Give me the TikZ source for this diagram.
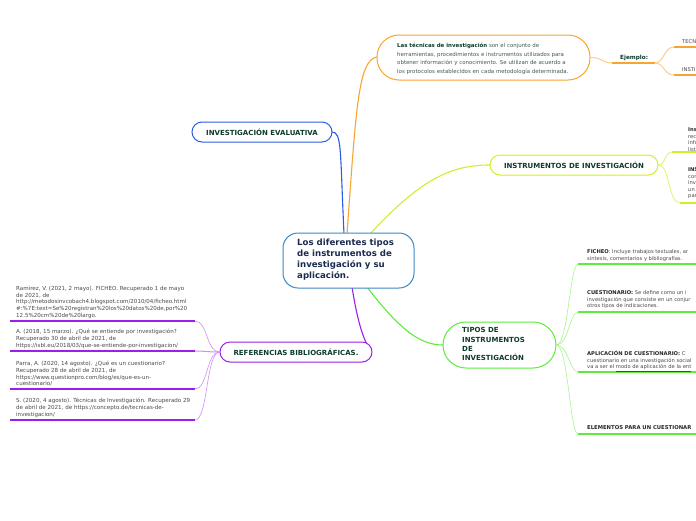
\documentclass[tikz,border=0pt]{standalone}
\usepackage{fontspec}
\setmainfont{DejaVu Sans}
\usetikzlibrary{calc}
\definecolor{cOr}{HTML}{F7A531}
\definecolor{cOrL}{HTML}{FAD08A}
\definecolor{cBl}{HTML}{2B5CE6}
\definecolor{cCen}{HTML}{3A8AC8}
\definecolor{cYg}{HTML}{D2EE2A}
\definecolor{cYgL}{HTML}{E4F47A}
\definecolor{cGr}{HTML}{5EEB3C}
\definecolor{cGrL}{HTML}{A6F38E}
\definecolor{cPu}{HTML}{9B1FEA}
\definecolor{cPuL}{HTML}{CF90F5}
\definecolor{tDk}{HTML}{0D3B2C}
\definecolor{tNavy}{HTML}{1B2B4F}
\definecolor{tGray}{HTML}{4A4A4A}
\definecolor{tBody}{HTML}{3F5A4F}
\tikzset{
  capsule/.style={draw, line width=1pt, rectangle, inner sep=0pt, fill=white},
  lbl/.style={font=\fontsize{7}{9.3}\selectfont\bfseries, text=tDk, inner sep=0pt},
  body/.style={font=\fontsize{5.2}{6.6}\selectfont, text=tGray, align=left, inner sep=0pt, anchor=north west},
  refbody/.style={font=\fontsize{5.55}{6.6}\selectfont, text=tGray, align=left, inner sep=0pt, anchor=north west},
  main/.style={line width=1.1pt},
  ul/.style={line width=1.6pt},
  br/.style={line width=0.6pt}
}
\begin{document}
\begin{tikzpicture}[x=1pt,y=-1pt]
\useasboundingbox (0,0) rectangle (696,520);
\clip (0,0) rectangle (696,520);
\fill[white] (0,0) rectangle (696,520);

% ---------- main connectors ----------
\coordinate (s1) at (347,234);
\coordinate (s2) at (344,234);
\coordinate (s3) at (370,234);
\coordinate (s4) at (367,287);
\coordinate (s5) at (352,287);
\coordinate (topin) at (377,57);
\coordinate (evin) at (332,132);
\coordinate (insin) at (490,165);
\coordinate (tipin) at (443,345);
\coordinate (refin) at (370,350);
\draw[main, cOr] (s1) .. controls (356,110) and (358,60) .. (topin);
\draw[main, cBl] (s2) .. controls (340,150) and (342,132) .. (evin);
\draw[main, cYg] (s3) .. controls (420,180) and (450,165) .. (insin);
\draw[main, cGr] (s4) .. controls (400,330) and (420,345) .. (tipin);
\draw[main, cPu] (s5) .. controls (358,325) and (364,340) .. (refin);

% ---------- central node ----------
\node[capsule, draw=cCen, minimum width=131, minimum height=55, rounded corners=15] (c) at (348.5,260.5) {};
\node[font=\fontsize{8.6}{11}\selectfont\bfseries, text=tNavy, align=left, inner sep=0pt, anchor=north west] (ct) at (297,239)
  {Los diferentes tipos\\de instrumentos de\\investigación y su\\aplicación.};

% ---------- top (orange) ----------
\node[capsule, draw=cOr, minimum width=213, minimum height=45, rounded corners=22] (top) at (483.5,57.5) {};
\node[font=\fontsize{5.45}{8.6}\selectfont, text=tBody, align=left, inner sep=0pt, anchor=north west] (toptxt) at (397,43)
  {\textbf{\color{tDk}Las técnicas de investigación} son el conjunto de\\
   herramientas, procedimientos e instrumentos utilizados para\\
   obtener información y conocimiento. Se utilizan de acuerdo a\\
   los protocolos establecidos en cada metodología determinada.};
\coordinate (ej1) at (612,63);
\coordinate (ej2) at (655,63);
\draw[br, cOrL, line width=1pt] (top.east) .. controls (602,57) and (602,63) .. (ej1);
\draw[ul, cOr] (ej1) -- (ej2);
\node[font=\fontsize{5.7}{7}\selectfont\bfseries, text=tDk, inner sep=0pt, anchor=base west] (ej) at (620,59.5) {Ejemplo:};
\coordinate (te1) at (674,47);
\coordinate (te2) at (697,47);
\coordinate (in1) at (674,75);
\coordinate (in2) at (697,75);
\draw[br, cOrL, line width=1pt] (ej2) .. controls (664,63) and (664,47) .. (te1);
\draw[br, cOrL, line width=1pt] (ej2) .. controls (664,63) and (664,75) .. (in1);
\draw[ul, cOr] (te1) -- (te2);
\draw[ul, cOr] (in1) -- (in2);
\node[font=\fontsize{5.2}{6}\selectfont, text=tGray, inner sep=0pt, anchor=base west] (tecn) at (682,43) {TECN};
\node[font=\fontsize{5.2}{6}\selectfont, text=tGray, inner sep=0pt, anchor=base west] (insti) at (682,71) {INSTI};

% ---------- evaluativa ----------
\node[capsule, draw=cBl, minimum width=140, minimum height=20, rounded corners=10] (ev) at (262,132) {};
\node[lbl] (evt) at (262,132) {INVESTIGACIÓN EVALUATIVA};

% ---------- instrumentos ----------
\node[capsule, draw=cYg, minimum width=168, minimum height=20, rounded corners=10] (ins) at (574,165) {};
\node[lbl] (inst) at (574,165.3) {INSTRUMENTOS DE INVESTIGACIÓN};
\coordinate (i1a) at (672,152);
\coordinate (i1b) at (697,152);
\coordinate (i2a) at (680,203);
\coordinate (i2b) at (697,203);
\draw[br, cYgL, line width=0.9pt] (ins.east) .. controls (666,165) and (664,152) .. (i1a);
\draw[br, cYgL, line width=0.9pt] (ins.east) .. controls (670,165) and (668,203) .. (i2a);
\draw[ul, cYg] (i1a) -- (i1b);
\draw[ul, cYg] (i2a) -- (i2b);
\node[body] (ins1) at (688,127.5) {\textbf{\color{black!85}Ins}\\rec\\info\\list};
\node[body] (ins2) at (688,167.5) {\textbf{\color{black!85}INS}\\con\\inv\\un\\par};

% ---------- tipos ----------
\node[capsule, draw=cGr, minimum width=113, minimum height=46, rounded corners=23] (tip) at (499.5,345) {};
\node[lbl, align=left, anchor=north west] (tipt) at (462,327.5) {TIPOS DE\\INSTRUMENTOS\\DE\\INVESTIGACIÓN};
\coordinate (t1a) at (578,264);
\coordinate (t2a) at (578,312);
\coordinate (t3a) at (578,372);
\coordinate (t4a) at (578,434);
\coordinate (t1b) at (697,264);
\coordinate (t2b) at (697,312);
\coordinate (t3b) at (697,372);
\coordinate (t4b) at (697,434);
\draw[br, cGrL] (tip.east) .. controls (568,345) and (570,264) .. (t1a);
\draw[br, cGrL] (tip.east) .. controls (568,345) and (570,312) .. (t2a);
\draw[br, cGrL] (tip.east) .. controls (568,345) and (570,372) .. (t3a);
\draw[br, cGrL] (tip.east) .. controls (568,345) and (570,434) .. (t4a);
\draw[ul, cGr] (t1a) -- (t1b);
\draw[ul, cGr] (t2a) -- (t2b);
\draw[ul, cGr] (t3a) -- (t3b);
\draw[ul, cGr] (t4a) -- (t4b);
\node[body] (fich) at (587,249.5) {\textbf{\color{black!85}FICHEO}: Incluye trabajos textuales, ar\\síntesis, comentarios y bibliografías.};
\node[body] (cues) at (587,290.5) {\textbf{\color{black!85}CUESTIONARIO:} Se define como un i\\investigación que consiste en un conjur\\otros tipos de indicaciones.};
\node[body] (apl) at (587,350.5) {\textbf{\color{black!85}APLICACIÓN DE CUESTIONARIO:} C\\cuestionario en una investigación social\\va a ser el \underline{modo de aplicación de la ent}};
\node[body, font=\fontsize{5.3}{6.6}\selectfont\bfseries, text=black!85] (elem) at (587,425.5) {ELEMENTOS PARA UN CUESTIONAR};

% ---------- referencias ----------
\node[capsule, draw=cPu, minimum width=152, minimum height=20, rounded corners=10] (ref) at (296,352) {};
\node[lbl] (reft) at (296,352.3) {REFERENCIAS BIBLIOGRÁFICAS.};
\coordinate (r1a) at (195,321);
\coordinate (r2a) at (195,351);
\coordinate (r3a) at (195,389);
\coordinate (r4a) at (195,420);
\coordinate (r1b) at (10,321);
\coordinate (r2b) at (10,351);
\coordinate (r3b) at (10,389);
\coordinate (r4b) at (10,420);
\draw[br, cPuL] (ref.west) .. controls (206,352) and (208,321) .. (r1a);
\draw[br, cPuL, line width=1pt] (ref.west) .. controls (208,352) and (205,351) .. (r2a);
\draw[br, cPuL] (ref.west) .. controls (206,352) and (208,389) .. (r3a);
\draw[br, cPuL] (ref.west) .. controls (206,352) and (208,420) .. (r4a);
\draw[ul, cPu] (r1a) -- (r1b);
\draw[ul, cPu] (r2a) -- (r2b);
\draw[ul, cPu] (r3a) -- (r3b);
\draw[ul, cPu] (r4a) -- (r4b);
\node[refbody] (ref1) at (16,286.3) {Ramirez, V. (2021, 2 mayo). FICHEO. Recuperado 1 de mayo\\de 2021, de\\http://metodosinvcobach4.blogspot.com/2010/04/ficheo.html\\\#:\%7E:text=Se\%20registran\%20los\%20datos\%20de,por\%20\\12.5\%20cm\%20de\%20largo.};
\node[refbody] (ref2) at (16,329.3) {A. (2018, 15 marzo). ¿Qué se entiende por investigación?\\Recuperado 30 de abril de 2021, de\\https://isbl.eu/2018/03/que-se-entiende-por-investigacion/};
\node[refbody] (ref3) at (16,361.3) {Parra, A. (2020, 14 agosto). ¿Qué es un cuestionario?\\Recuperado 28 de abril de 2021, de\\https://www.questionpro.com/blog/es/que-es-un-\\cuestionario/};
\node[refbody] (ref4) at (16,398.3) {S. (2020, 4 agosto). Técnicas de Investigación. Recuperado 29\\de abril de 2021, de https://concepto.de/tecnicas-de-\\investigacion/};
\end{tikzpicture}
\end{document}
